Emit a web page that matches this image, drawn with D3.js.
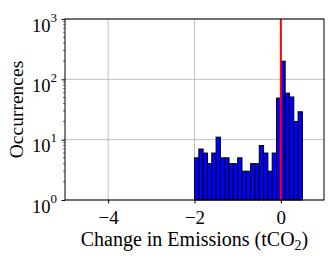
<!DOCTYPE html>
<html>
<head>
<meta charset="utf-8">
<script src="https://cdn.jsdelivr.net/npm/d3@7"></script>
<style>
  body { margin: 0; background: #fff; }
  svg { display: block; }
</style>
</head>
<body>
<div id="chart"></div>
<script>
// histogram bins (left edges, width 0.1) and their counts
const binEdges = [-2.0, -1.9, -1.8, -1.7, -1.6, -1.5, -1.4, -1.3, -1.2, -1.1, -1.0, -0.9, -0.8,
                  -0.7, -0.6, -0.5, -0.4, -0.3, -0.2, -0.1, 0.0, 0.1, 0.2, 0.3, 0.4, 0.5];
const counts = [5, 7, 6, 4, 6, 11, 5, 5, 4, 4, 5, 3, 3, 4, 4, 8, 6, 3, 6, 49, 200, 59, 51, 20, 29];
const xTicks = [-4, -2, 0];
const yTicks = [1, 10, 100, 1000];
const yExponents = ["0", "1", "2", "3"];
const markerX = 0;

const serif = "'Liberation Serif', 'Times New Roman', serif";
const width = 331, height = 259;
const margin = { top: 19, right: 7, bottom: 59, left: 65 };

const svg = d3.select("#chart").append("svg")
    .attr("width", width)
    .attr("height", height)
    .style("font-family", serif);

const x = d3.scaleLinear().domain([-5, 1]).range([margin.left, width - margin.right]);
const y = d3.scaleLog().domain([1, 1000]).range([height - margin.bottom, margin.top]);

const bins = counts.map((c, i) => ({ x0: binEdges[i], x1: binEdges[i + 1], n: c }));

// grid
svg.append("g").selectAll("line")
    .data(xTicks)
    .enter().append("line")
    .attr("x1", d => x(d)).attr("x2", d => x(d))
    .attr("y1", y(1)).attr("y2", y(1000))
    .attr("stroke", "#b0b0b0").attr("stroke-width", 0.8);

svg.append("g").selectAll("line")
    .data(yTicks)
    .enter().append("line")
    .attr("x1", x(-5)).attr("x2", x(1))
    .attr("y1", d => y(d)).attr("y2", d => y(d))
    .attr("stroke", "#b0b0b0").attr("stroke-width", 0.8);

// bars
svg.append("g").selectAll("rect")
    .data(bins)
    .enter().append("rect")
    .attr("x", d => x(d.x0))
    .attr("y", d => y(d.n))
    .attr("width", d => x(d.x1) - x(d.x0))
    .attr("height", d => y(1) - y(d.n))
    .attr("fill", "#0000ff")
    .attr("stroke", "#000")
    .attr("stroke-width", 1);

// red marker line
svg.append("line")
    .attr("x1", x(markerX)).attr("x2", x(markerX))
    .attr("y1", y(1)).attr("y2", y(1000))
    .attr("stroke", "#ff0000").attr("stroke-width", 2);

// x axis
const xAxis = svg.append("g")
    .attr("transform", `translate(0,${y(1)})`)
    .call(d3.axisBottom(x).tickValues(xTicks).tickSize(3.5).tickPadding(7)
        .tickFormat(d => d < 0 ? "\u2212" + Math.abs(d) : d));
xAxis.attr("font-family", null).attr("font-size", null);
xAxis.select(".domain").remove();
xAxis.selectAll("text").style("font-size", "19px").style("font-family", serif);

// y axis with minor ticks
const minor = [];
for (let dec = 1; dec < 1000; dec *= 10) {
    for (let k = 2; k <= 9; k++) minor.push(dec * k);
}
const yAxis = svg.append("g")
    .attr("transform", `translate(${x(-5)},0)`)
    .call(d3.axisLeft(y).tickValues(yTicks).tickSize(3.5).tickFormat(""));
yAxis.select(".domain").remove();
svg.append("g").selectAll("line")
    .data(minor)
    .enter().append("line")
    .attr("x1", x(-5) - 2).attr("x2", x(-5))
    .attr("y1", d => y(d)).attr("y2", d => y(d))
    .attr("stroke", "#000").attr("stroke-width", 0.6);

const yLabels = svg.append("g").selectAll("text")
    .data(yTicks)
    .enter().append("text")
    .attr("x", x(-5) - 8)
    .attr("y", d => y(d) + 12.5)
    .attr("text-anchor", "end")
    .style("font-family", serif)
    .style("font-size", "18.5px");
yLabels.append("tspan").text("10");
yLabels.append("tspan")
    .attr("dy", -10)
    .style("font-size", "13px")
    .text((d, i) => yExponents[i]);

// frame
svg.append("rect")
    .attr("x", x(-5)).attr("y", y(1000))
    .attr("width", x(1) - x(-5)).attr("height", y(1) - y(1000))
    .attr("fill", "none").attr("stroke", "#000").attr("stroke-width", 1);

// axis titles
const xl = svg.append("text")
    .attr("x", (x(-5) + x(1)) / 2)
    .attr("y", 246)
    .attr("text-anchor", "middle")
    .style("font-family", serif)
    .style("font-size", "20px");
xl.append("tspan").text("Change in Emissions (tCO");
xl.append("tspan").attr("dy", 4).style("font-size", "14px").text("2");
xl.append("tspan").attr("dy", -4).text(")");

svg.append("text")
    .attr("transform", `translate(23,${(y(1) + y(1000)) / 2}) rotate(-90)`)
    .attr("text-anchor", "middle")
    .style("font-family", serif)
    .style("font-size", "19.5px")
    .text("Occurrences");
</script>
</body>
</html>
